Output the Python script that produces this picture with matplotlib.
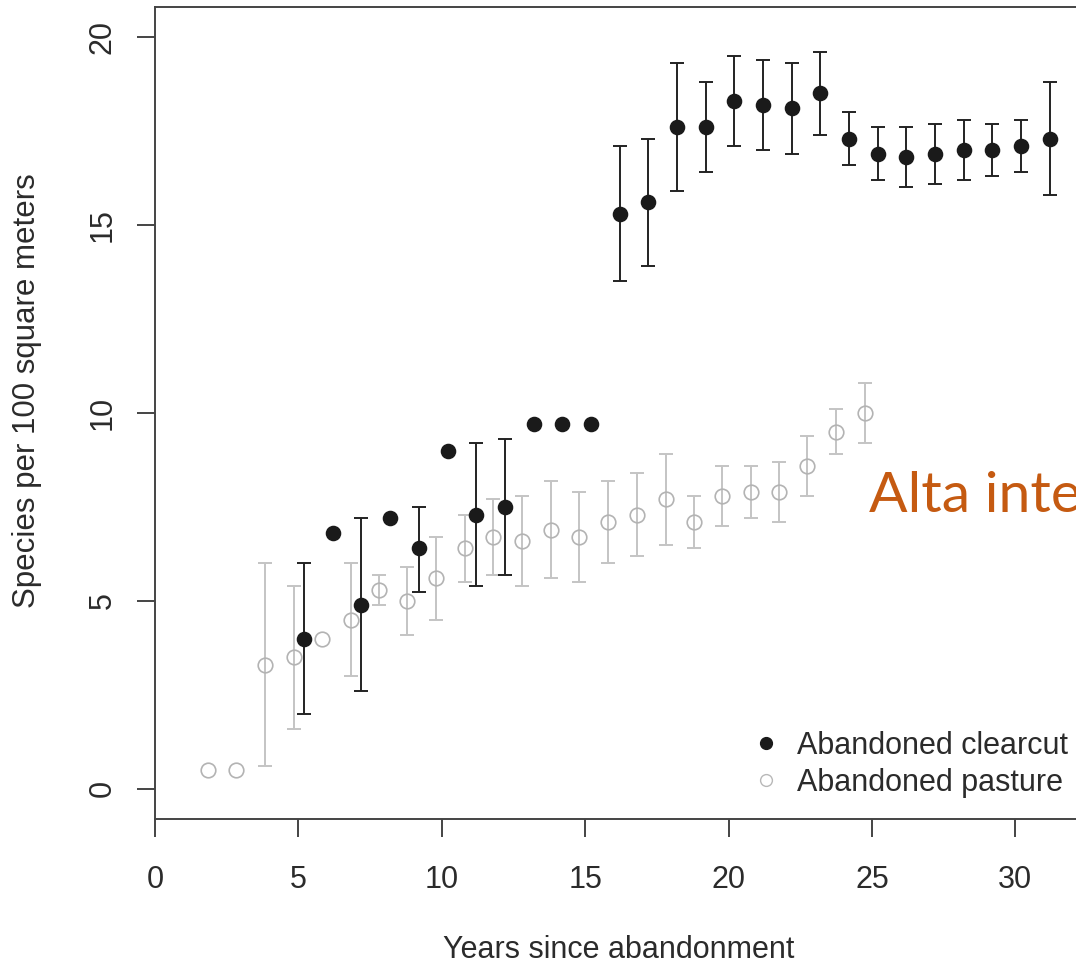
import numpy as np
import matplotlib
matplotlib.use("Agg")
from matplotlib import pyplot as plt
from matplotlib.lines import Line2D

nan = np.nan

# Abandoned clearcut (filled black)
clear_x = [5.2, 6.2, 7.2, 8.2, 9.2, 10.2, 11.2, 12.2, 13.2, 14.2, 15.2, 16.2, 17.2, 18.2,
           19.2, 20.2, 21.2, 22.2, 23.2, 24.2, 25.2, 26.2, 27.2, 28.2, 29.2, 30.2, 31.2]
clear_mean = [4.0, 6.8, 4.9, 7.2, 6.4, 9.0, 7.3, 7.5, 9.7, 9.7, 9.7, 15.3, 15.6, 17.6,
              17.6, 18.3, 18.2, 18.1, 18.5, 17.3, 16.9, 16.8, 16.9, 17.0, 17.0, 17.1, 17.3]
clear_lo = [2.0, nan, 2.6, nan, 5.25, nan, 5.4, 5.7, nan, nan, nan, 13.5, 13.9, 15.9,
            16.4, 17.1, 17.0, 16.9, 17.4, 16.6, 16.2, 16.0, 16.1, 16.2, 16.3, 16.4, 15.8]
clear_hi = [6.0, nan, 7.2, nan, 7.5, nan, 9.2, 9.3, nan, nan, nan, 17.1, 17.3, 19.3,
            18.8, 19.5, 19.4, 19.3, 19.6, 18.0, 17.6, 17.6, 17.7, 17.8, 17.7, 17.8, 18.8]

# Abandoned pasture (open grey)
past_x = [1.85, 2.82, 3.85, 4.83, 5.82, 6.82, 7.82, 8.8, 9.8, 10.8, 11.8, 12.8, 13.8,
          14.8, 15.8, 16.8, 17.8, 18.78, 19.77, 20.77, 21.76, 22.75, 23.75, 24.74]
past_mean = [0.5, 0.5, 3.3, 3.5, 4.0, 4.5, 5.3, 5.0, 5.6, 6.4, 6.7, 6.6, 6.9, 6.7,
             7.1, 7.3, 7.7, 7.1, 7.8, 7.9, 7.9, 8.6, 9.5, 10.0]
past_lo = [nan, nan, 0.6, 1.6, nan, 3.0, 4.9, 4.1, 4.5, 5.5, 5.7, 5.4, 5.6, 5.5,
           6.0, 6.2, 6.5, 6.4, 7.0, 7.2, 7.1, 7.8, 8.9, 9.2]
past_hi = [nan, nan, 6.0, 5.4, nan, 6.0, 5.7, 5.9, 6.7, 7.3, 7.7, 7.8, 8.2, 7.9,
           8.2, 8.4, 8.9, 7.8, 8.6, 8.6, 8.7, 9.4, 10.1, 10.8]

plt.rcParams['font.family'] = ['Liberation Sans', 'DejaVu Sans']
txt_col = '#2b2b2b'
axis_col = '#444444'

W, H = 1076, 971
fig = plt.figure(figsize=(W / 100, H / 100), dpi=100)
# axes runs past the right edge of the picture, as in the cropped original
ax = fig.add_axes([155 / W, (H - 819) / H, 33 * 28.68 / W, 812 / H])


def draw(ax, x, m, lo, hi, ecol, face, edge, ms, z):
    x = np.array(x); m = np.array(m); lo = np.array(lo); hi = np.array(hi)
    ok = ~np.isnan(lo)
    ax.errorbar(x[ok], m[ok], yerr=[m[ok] - lo[ok], hi[ok] - m[ok]], fmt='none',
                ecolor=ecol, elinewidth=1.4, capsize=4.7, capthick=1.4, zorder=z)
    ax.plot(x, m, 'o', ms=ms, mfc=face, mec=edge, mew=1.2, zorder=z + 0.5)


draw(ax, past_x, past_mean, past_lo, past_hi, '#c4c4c4', 'none', '#b3b3b3', 10.5, 2)
draw(ax, clear_x, clear_mean, clear_lo, clear_hi, '#222222', '#1a1a1a', '#1a1a1a', 10, 4)

ax.set_xlim(0, 33)
ax.set_ylim(-0.8, 20.8)
ax.set_xticks([0, 5, 10, 15, 20, 25, 30])
ax.set_yticks([0, 5, 10, 15, 20])

for s in ax.spines.values():
    s.set_linewidth(1.4)
    s.set_color(axis_col)
ax.tick_params(length=13, width=1.4, color=axis_col, labelsize=22, labelcolor=txt_col)
ax.tick_params(axis='x', pad=20)
ax.tick_params(axis='y', pad=14, labelrotation=90)
for lab in ax.get_yticklabels():
    lab.set_va('center')

ax.set_xlabel('Years since abandonment', fontsize=22, color=txt_col)
ax.set_ylabel('Species per 100 square meters', fontsize=22.5, color=txt_col)
ax.xaxis.set_label_coords((618 - 155) / 946, -(950 - 819) / 812)
ax.xaxis.label.set_va('center')
ax.yaxis.set_label_coords((27 - 155) / 946, (819 - 391) / 812)
ax.yaxis.label.set_va('center')

handles = [
    Line2D([], [], marker='o', ls='none', color='#1a1a1a', markersize=8.5),
    Line2D([], [], marker='o', ls='none', mfc='none', mec='#b8b8b8', mew=1.0, markersize=8.5),
]
fig.legend(handles, ['Abandoned clearcut', 'Abandoned pasture'], loc='upper left',
           bbox_to_anchor=(751 / W, 1 - 731 / H), frameon=False, borderpad=0,
           borderaxespad=0, handlelength=1, handletextpad=0.5, labelspacing=0.22,
           fontsize=22, labelcolor=txt_col)

fig.text(869 / W, 1 - 512 / H, 'Alta inte', family=['Lato', 'DejaVu Sans'],
         fontsize=41, color='#C55A11', va='baseline', ha='left')

fig.savefig('out.png', dpi=100)
